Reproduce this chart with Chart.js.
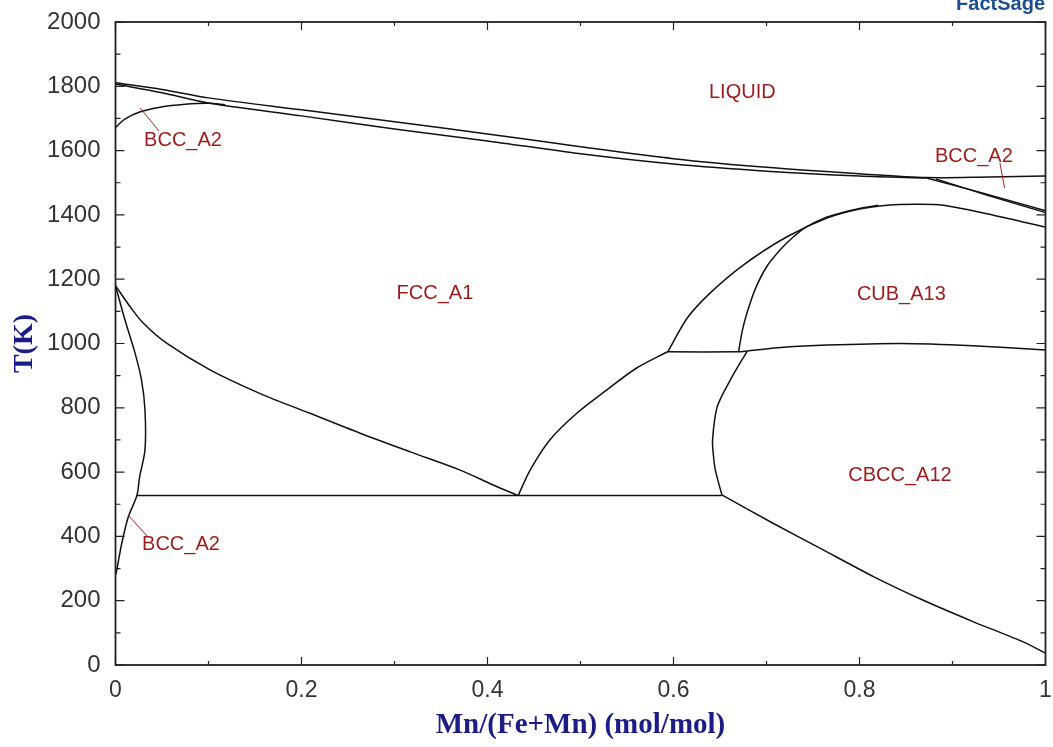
<!DOCTYPE html>
<html>
<head>
<meta charset="utf-8">
<script src="https://cdn.jsdelivr.net/npm/chart.js@4.4.0/dist/chart.umd.min.js"></script>
<style>
  html, body { margin: 0; padding: 0; background: #fff; }
  #wrap { position: relative; width: 1053px; height: 747px; }
</style>
</head>
<body>
<div id="wrap"><canvas id="phase" width="1053" height="747"></canvas></div>
<script>
// phase boundaries, x = Mn/(Fe+Mn), T in K
const liquidusX = [0, 0.05, 0.1, 0.2, 0.3, 0.4, 0.5, 0.6, 0.7, 0.8, 0.872, 0.94, 1.0];
const liquidusT = [1811, 1790, 1764, 1727, 1690, 1652, 1612, 1575, 1548, 1528, 1516, 1518, 1521];
const solidusX = [0, 0.05, 0.1, 0.2, 0.3, 0.4, 0.5, 0.6, 0.7, 0.8, 0.872];
const solidusT = [1807, 1780, 1748, 1708, 1667, 1630, 1590, 1558, 1536, 1521, 1515];
const deltaX = [0, 0.01, 0.026, 0.048, 0.075, 0.1, 0.118];
const deltaT = [1672, 1698, 1720, 1735, 1744, 1747, 1742];
const bccMnAX = [0.872, 0.93, 1.0];
const bccMnAT = [1515, 1470, 1413];
const bccMnBX = [0.882, 0.935, 1.0];
const bccMnBT = [1512, 1463, 1407];
const domeOuterX = [0.594, 0.615, 0.639, 0.675, 0.722, 0.765, 0.80, 0.83, 0.86, 0.89, 0.943, 1.0];
const domeOuterT = [975, 1080, 1156, 1244, 1332, 1390, 1418, 1430, 1433, 1430, 1400, 1362];
const domeInnerX = [0.670, 0.674, 0.679, 0.688, 0.700, 0.715, 0.729, 0.743, 0.762, 0.779, 0.80, 0.82];
const domeInnerT = [975, 1040, 1095, 1170, 1238, 1292, 1332, 1363, 1390, 1405, 1420, 1430];
const cubLowX = [0.594, 0.67, 0.68, 0.718, 0.765, 0.844, 0.922, 1.0];
const cubLowT = [974, 974, 977, 988, 995, 1000, 993, 980];
const cbccX = [0.679, 0.661, 0.647, 0.642, 0.643, 0.645, 0.652];
const cbccT = [975, 886, 803, 700, 650, 606, 529];
const lowRightX = [0.652, 0.707, 0.761, 0.815, 0.868, 0.922, 0.976, 1.0];
const lowRightT = [529, 441, 358, 275, 202, 135, 72, 37];
const eutectoidX = [0.023, 0.652];
const eutectoidT = [527, 527];
const fccRightX = [0.433, 0.446, 0.467, 0.496, 0.528, 0.560, 0.594];
const fccRightT = [527, 607, 700, 783, 855, 923, 975];
const fccLeftX = [0, 0.0156, 0.030, 0.055, 0.1016, 0.155, 0.209, 0.263, 0.317, 0.370, 0.406, 0.433];
const fccLeftT = [1180, 1115, 1063, 1001, 918, 845, 783, 721, 663, 607, 560, 527];
const bccLoopX = [0, 0.0102, 0.021, 0.028, 0.0317, 0.0317, 0.026, 0.023, 0.0138, 0.0067, 0.001, 0];
const bccLoopT = [1180, 1073, 970, 886, 793, 669, 586, 527, 461, 378, 290, 280];

// phase labels: name, x, T
const labelNames = ['LIQUID', 'BCC_A2', 'BCC_A2', 'FCC_A1', 'CUB_A13', 'CBCC_A12', 'BCC_A2'];
const labelX = [0.674, 0.0726, 0.923, 0.3435, 0.845, 0.8435, 0.0704];
const labelT = [1782, 1633, 1583, 1157, 1151, 591, 376];
// leader lines: from (x1,T1) to (x2,T2)
const leaderX1 = [0.0263, 0.951, 0.0134];
const leaderT1 = [1733, 1561, 467];
const leaderX2 = [0.0468, 0.956, 0.0349];
const leaderT2 = [1661, 1484, 398];

const xTicks = [0, 0.2, 0.4, 0.6, 0.8, 1];
const yTicks = [0, 200, 400, 600, 800, 1000, 1200, 1400, 1600, 1800, 2000];

function pts(xs, ts) {
  return xs.map((x, i) => ({ x: x, y: ts[i] }));
}

function curve(xs, ts, tension) {
  return {
    data: pts(xs, ts),
    showLine: true,
    borderColor: '#111',
    borderWidth: 1.5,
    pointRadius: 0,
    tension: tension,
    fill: false
  };
}

const datasets = [
  curve(liquidusX, liquidusT, 0.3),
  curve(solidusX, solidusT, 0.3),
  curve(deltaX, deltaT, 0.3),
  curve(bccMnAX, bccMnAT, 0),
  curve(bccMnBX, bccMnBT, 0),
  curve(domeOuterX, domeOuterT, 0.3),
  curve(domeInnerX, domeInnerT, 0.3),
  curve(cubLowX, cubLowT, 0.2),
  curve(cbccX, cbccT, 0.3),
  curve(lowRightX, lowRightT, 0.2),
  curve(eutectoidX, eutectoidT, 0),
  curve(fccRightX, fccRightT, 0.3),
  curve(fccLeftX, fccLeftT, 0.3),
  curve(bccLoopX, bccLoopT, 0.3)
];

// no extra room for the end labels, the frame is placed by the layout padding
function noPad(s) {
  s.paddingTop = 0; s.paddingBottom = 0;
  s.paddingLeft = 0; s.paddingRight = 0;
}

// frame with inward ticks on all four sides
const framePlugin = {
  id: 'frame',
  afterDraw(chart) {
    const c = chart.ctx, a = chart.chartArea;
    const sx = chart.scales.x, sy = chart.scales.y;
    c.save();
    c.strokeStyle = '#222';
    c.lineWidth = 1.2;
    for (let i = 0; i <= 10; i++) {
      const px = sx.getPixelForValue(i / 10);
      const len = i % 2 === 0 ? 8 : 4;
      c.beginPath();
      c.moveTo(px, a.bottom); c.lineTo(px, a.bottom - len);
      c.moveTo(px, a.top); c.lineTo(px, a.top + len);
      c.stroke();
    }
    for (let v = 0; v <= 2000; v += 100) {
      const py = sy.getPixelForValue(v);
      const len = v % 200 === 0 ? 9 : 5;
      c.beginPath();
      c.moveTo(a.left, py); c.lineTo(a.left + len, py);
      c.moveTo(a.right, py); c.lineTo(a.right - len, py);
      c.stroke();
    }
    c.lineWidth = 1.8;
    c.strokeRect(a.left, a.top, a.right - a.left, a.bottom - a.top);

    // phase names + leader lines
    c.strokeStyle = '#9a2424';
    c.lineWidth = 1;
    for (let i = 0; i < leaderX1.length; i++) {
      c.beginPath();
      c.moveTo(sx.getPixelForValue(leaderX1[i]), sy.getPixelForValue(leaderT1[i]));
      c.lineTo(sx.getPixelForValue(leaderX2[i]), sy.getPixelForValue(leaderT2[i]));
      c.stroke();
    }
    c.fillStyle = '#9a1c1c';
    c.font = '20px "Liberation Sans", Arial, sans-serif';
    c.textAlign = 'center';
    c.textBaseline = 'middle';
    labelNames.forEach((n, i) => {
      c.fillText(n, sx.getPixelForValue(labelX[i]), sy.getPixelForValue(labelT[i]));
    });

    // logo text cut at top edge
    c.fillStyle = '#1d4f8c';
    c.font = 'bold 20px "Liberation Sans", Arial, sans-serif';
    c.textAlign = 'right';
    c.textBaseline = 'alphabetic';
    c.fillText('FactSage', 1045, 10);
    c.restore();
  }
};

const ctx = document.getElementById('phase');
const chart = new Chart(ctx, {
  type: 'scatter',
  data: { datasets: datasets },
  options: {
    responsive: false,
    animation: false,
    layout: { padding: { left: 0, right: 7.5, top: 22, bottom: 0 } },
    plugins: {
      legend: { display: false },
      tooltip: { enabled: false }
    },
    scales: {
      x: {
        type: 'linear',
        min: 0,
        max: 1,
        afterBuildTicks: s => { s.ticks = xTicks.map(v => ({ value: v })); },
        ticks: {
          color: '#333',
          padding: 12,
          maxRotation: 0,
          font: { family: 'Liberation Sans', size: 23 },
          callback: v => String(v)
        },
        grid: { display: false, drawTicks: false },
        border: { display: false },
        title: {
          display: true,
          text: 'Mn/(Fe+Mn) (mol/mol)',
          color: '#1c1c86',
          font: { family: 'Liberation Serif', size: 29, weight: 'bold' },
          padding: { top: 0, bottom: 4 }
        },
        afterFit: s => { s.height = 82; noPad(s); }
      },
      y: {
        type: 'linear',
        min: 0,
        max: 2000,
        afterBuildTicks: s => { s.ticks = yTicks.map(v => ({ value: v })); },
        ticks: {
          color: '#333',
          padding: 15,
          font: { family: 'Liberation Sans', size: 24 },
          callback: v => String(v)
        },
        grid: { display: false, drawTicks: false },
        border: { display: false },
        title: {
          display: true,
          text: 'T(K)',
          color: '#1c1c86',
          font: { family: 'Liberation Serif', size: 28, weight: 'bold' },
          padding: { top: 8, bottom: 0 }
        },
        afterFit: s => { s.width = 115.5; noPad(s); }
      }
    }
  },
  plugins: [framePlugin]
});
</script>
</body>
</html>
